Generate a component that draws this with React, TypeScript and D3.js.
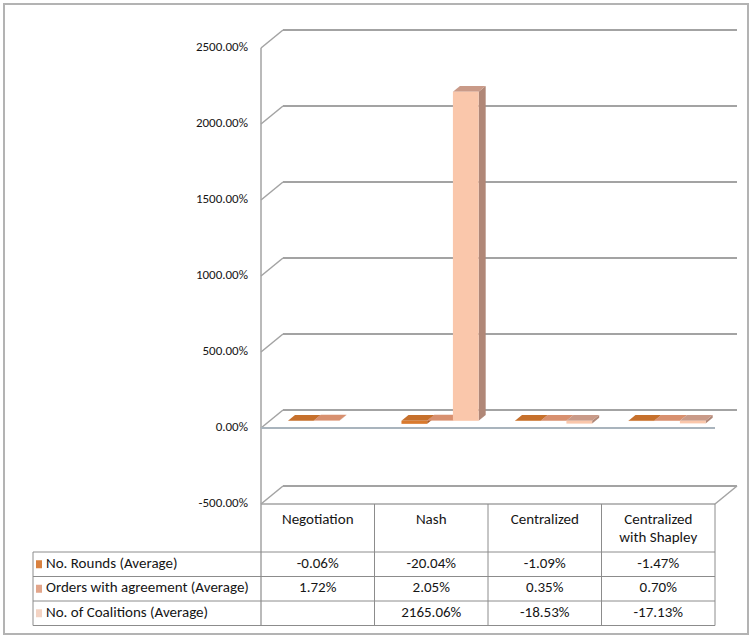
import React from "react";
import * as d3 from "d3";

const categories = ["Negotiation", "Nash", "Centralized", "Centralized\nwith Shapley"];
const seriesNames = ["No. Rounds (Average)", "Orders with agreement (Average)", "No. of Coalitions (Average)"];
const roundsValues: (number | null)[] = [-0.06, -20.04, -1.09, -1.47];
const agreementValues: (number | null)[] = [1.72, 2.05, 0.35, 0.7];
const coalitionValues: (number | null)[] = [null, 2165.06, -18.53, -17.13];
const yTicks = [-500, 0, 500, 1000, 1500, 2000, 2500];

const seriesValues = [roundsValues, agreementValues, coalitionValues];
const seriesColors = [
  { front: "#D97A2E", top: "#C6702C", side: "#A85A22", key: "#D9813F" },
  { front: "#E6A184", top: "#D8906F", side: "#B8785C", key: "#E2A58A" },
  { front: "#FAC7AB", top: "#C99A88", side: "#B08777", key: "#F3D3C3" },
];

const W = 750;
const H = 638;
const FONT = "Carlito, 'Liberation Sans', Arial, sans-serif";

function fmt(v: number | null) {
  if (v === null) return "";
  return v.toFixed(2) + "%";
}

export default function App() {
  const x0 = 261;
  const x1 = 715;
  const y = d3.scaleLinear().domain([-500, 2500]).range([504, 48]);
  const depth = { dx: 22, dy: -18 };
  const fFront = 0.4;
  const fBack = 0.72;
  const x = d3.scaleBand<string>().domain(categories).range([x0, x1]).padding(0);
  const bw = x.bandwidth();
  const s = d3
    .scaleBand<string>()
    .domain(seriesNames)
    .range([bw * 0.16, bw * 0.84])
    .padding(0);

  const gridColor = "#a3a3a3";
  const tableColor = "#8c8c8c";
  const textColor = "#151515";

  const tableTop = y(-500);
  const headerBottom = 552;
  const rowH = 24.5;
  const legendLeft = 33;
  const tableBottom = headerBottom + rowH * 3;

  const bars: JSX.Element[] = [];
  categories.forEach((cat, ci) => {
    seriesNames.forEach((sn, si) => {
      const v = seriesValues[si][ci];
      if (v === null) return;
      const col = seriesColors[si];
      const fx = (x(cat) as number) + (s(sn) as number) + fFront * depth.dx;
      const fw = s.bandwidth();
      const zeroY = y(0) + fFront * depth.dy;
      const valY = y(v) + fFront * depth.dy;
      const topY = Math.min(zeroY, valY);
      const botY = Math.max(zeroY, valY);
      const bdx = (fBack - fFront) * depth.dx;
      const bdy = (fBack - fFront) * depth.dy;
      const key = `${ci}-${si}`;
      bars.push(
        <g key={key}>
          <polygon
            points={`${fx + fw},${topY} ${fx + fw + bdx},${topY + bdy} ${fx + fw + bdx},${botY + bdy} ${fx + fw},${botY}`}
            fill={col.side}
          />
          <polygon
            points={`${fx},${topY} ${fx + fw},${topY} ${fx + fw + bdx},${topY + bdy} ${fx + bdx},${topY + bdy}`}
            fill={col.top}
          />
          <rect x={fx} y={topY} width={fw} height={Math.max(botY - topY, 0.01)} fill={col.front} />
        </g>
      );
    });
  });

  return (
    <svg
      width={W}
      height={H}
      style={{ position: "absolute", left: 0, top: 0, background: "#fff" }}
      fontFamily={FONT}
    >
      <rect x={4} y={4} width={W - 6} height={H - 8} fill="#fff" stroke="#b3b3b3" strokeWidth={2} />

      {yTicks.map((t) => (
        <g key={t}>
          <line
            x1={x0 + depth.dx}
            x2={x1 + depth.dx}
            y1={y(t) + depth.dy}
            y2={y(t) + depth.dy}
            stroke={gridColor}
            strokeWidth={2}
          />
          <line
            x1={x0}
            y1={y(t)}
            x2={x0 + depth.dx}
            y2={y(t) + depth.dy}
            stroke={gridColor}
            strokeWidth={1.5}
          />
        </g>
      ))}
      <line
        x1={x1}
        y1={y(-500)}
        x2={x1 + depth.dx}
        y2={y(-500) + depth.dy}
        stroke={gridColor}
        strokeWidth={1.5}
      />
      <line x1={x0} x2={x0} y1={y(2500)} y2={tableBottom} stroke={gridColor} strokeWidth={1.5} />
      <line x1={x0} x2={x1} y1={y(0)} y2={y(0)} stroke="#a9b4bd" strokeWidth={2} />

      {bars}

      {yTicks.map((t) => (
        <text
          key={`l${t}`}
          x={248}
          y={y(t)}
          textAnchor="end"
          dominantBaseline="middle"
          fontSize={13}
          fill={textColor}
        >
          {t.toFixed(2) + "%"}
        </text>
      ))}

      <g stroke={tableColor} strokeWidth={1}>
        <line x1={x0} x2={x1} y1={tableTop} y2={tableTop} stroke={gridColor} strokeWidth={1.5} />
        {categories.map((c, i) => (
          <line
            key={`v${i}`}
            x1={(x(c) as number) + bw}
            x2={(x(c) as number) + bw}
            y1={tableTop}
            y2={tableBottom}
          />
        ))}
        <line x1={legendLeft} x2={legendLeft} y1={headerBottom} y2={tableBottom} />
        {[0, 1, 2, 3].map((r) => (
          <line
            key={`h${r}`}
            x1={legendLeft}
            x2={x1}
            y1={headerBottom + r * rowH}
            y2={headerBottom + r * rowH}
          />
        ))}
      </g>
      {categories.map((c) => {
        const lines = c.split("\n");
        return (
          <text
            key={`hd${c}`}
            x={(x(c) as number) + bw / 2}
            y={520}
            textAnchor="middle"
            dominantBaseline="middle"
            fontSize={15}
            fill={textColor}
          >
            {lines.map((ln, li) => (
              <tspan key={li} x={(x(c) as number) + bw / 2} dy={li === 0 ? 0 : 18}>
                {ln}
              </tspan>
            ))}
          </text>
        );
      })}
      {seriesNames.map((sn, si) => {
        const cy = headerBottom + si * rowH + rowH / 2;
        return (
          <g key={`row${si}`}>
            <rect x={36} y={cy - 4} width={6} height={8} fill={seriesColors[si].key} />
            <text x={46} y={cy} dominantBaseline="middle" fontSize={15} fill={textColor}>
              {sn}
            </text>
            {categories.map((c, ci) => (
              <text
                key={`c${ci}`}
                x={(x(c) as number) + bw / 2}
                y={cy}
                textAnchor="middle"
                dominantBaseline="middle"
                fontSize={15}
                fill={textColor}
              >
                {fmt(seriesValues[si][ci])}
              </text>
            ))}
          </g>
        );
      })}
    </svg>
  );
}
